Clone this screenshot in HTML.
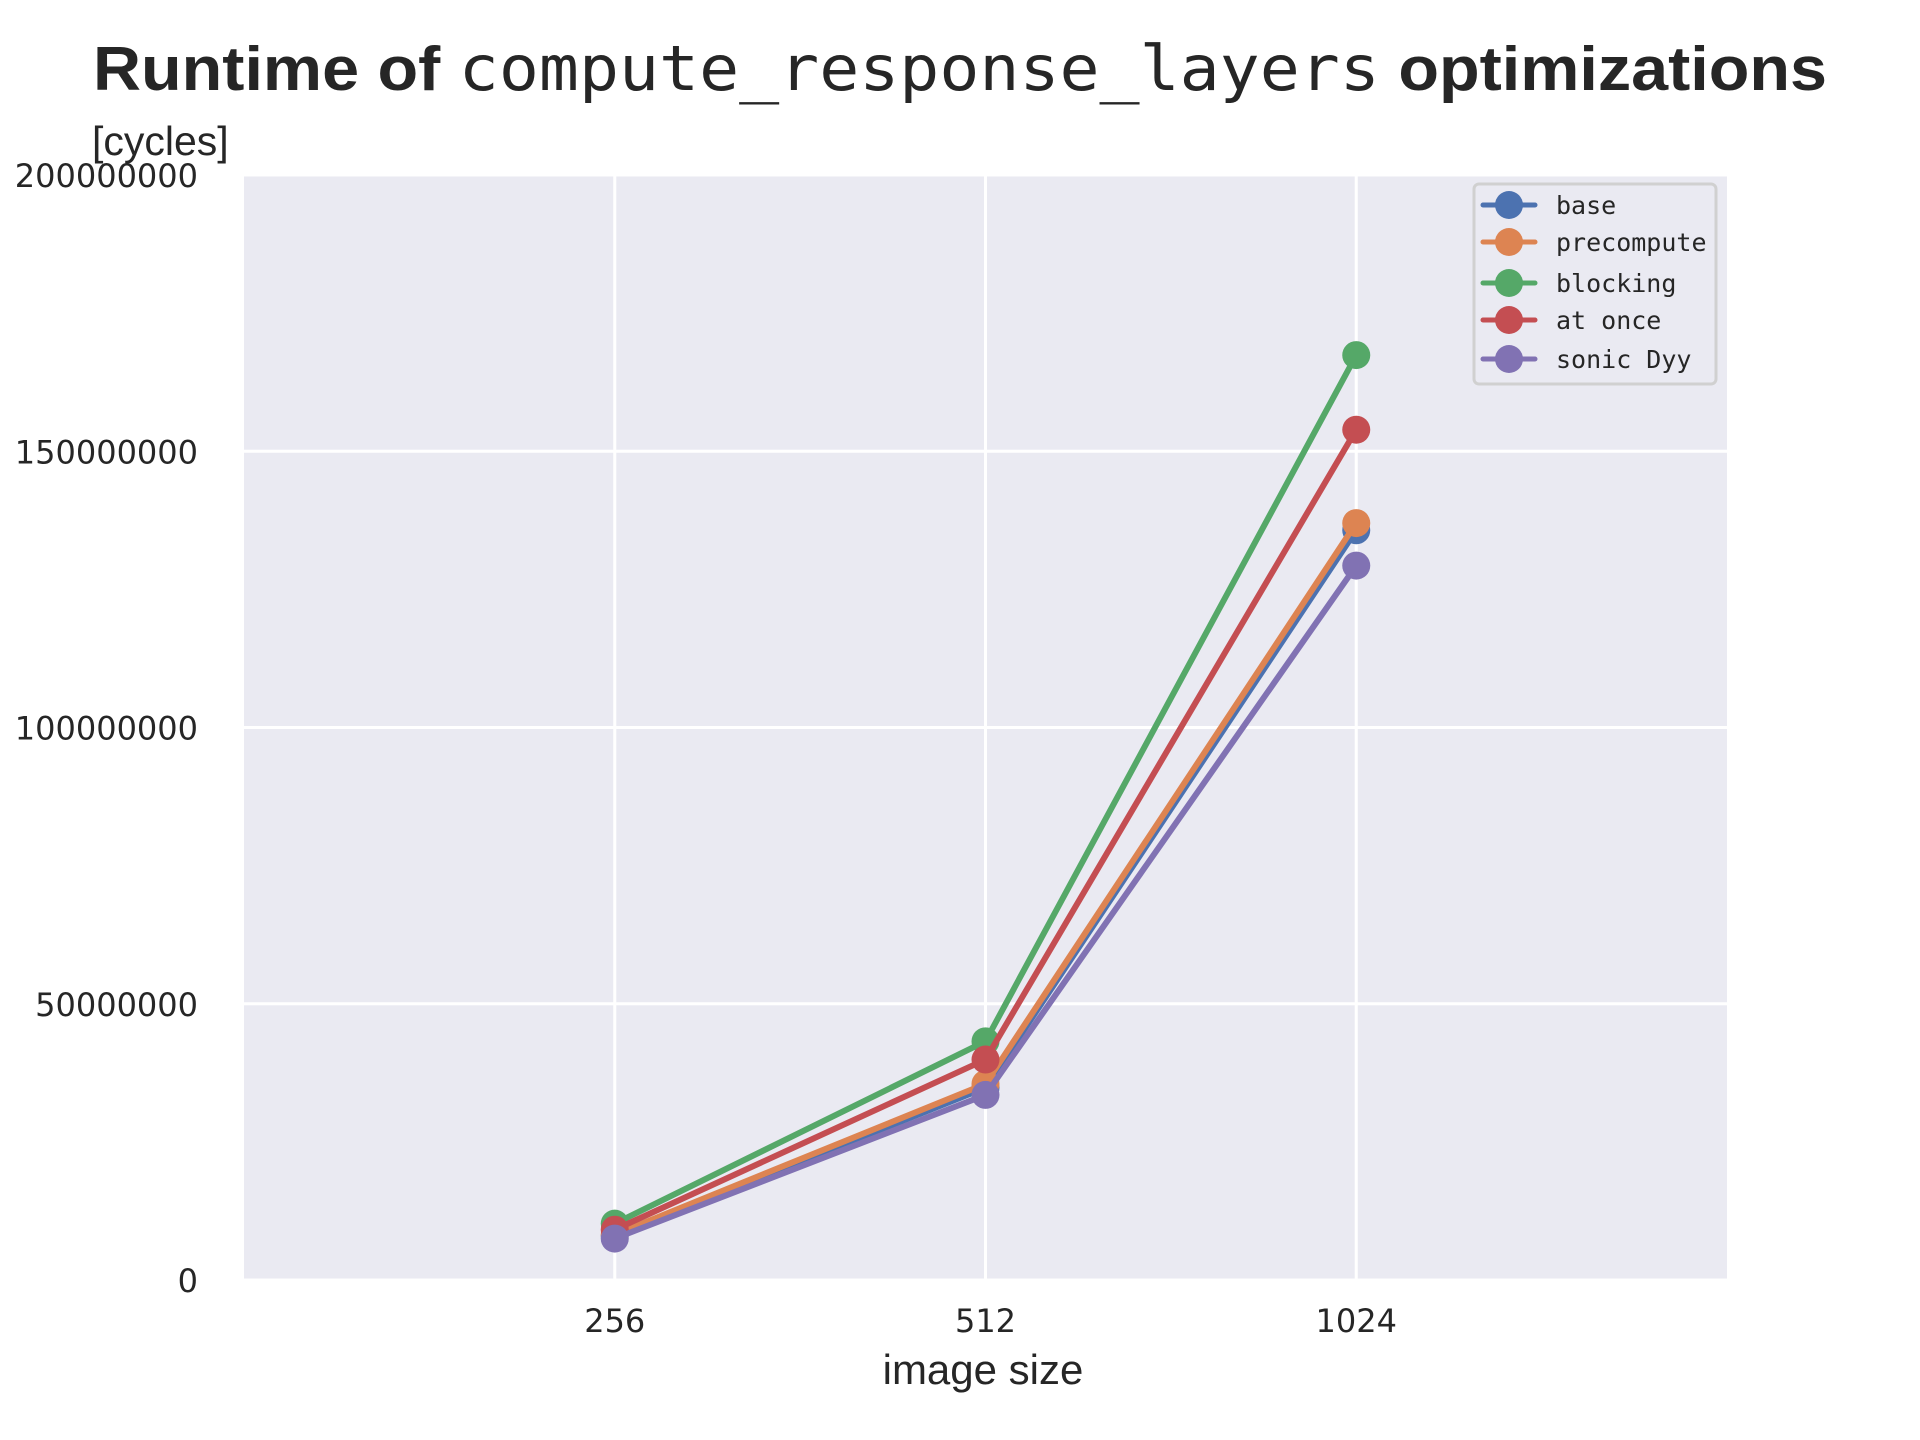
<!DOCTYPE html>
<html><head><meta charset="utf-8"><style>
body{margin:0;background:#fff}
svg{display:block}
text{fill:#262626;font-family:"Liberation Sans",sans-serif}
.mono{font-family:"DejaVu Sans Mono","Liberation Mono",monospace}
.tick{font-family:"DejaVu Sans","Liberation Sans",sans-serif}
</style></head><body>
<svg id="chart" width="1920" height="1440">
<text x="93" y="90" font-size="62" textLength="1734" lengthAdjust="spacingAndGlyphs"><tspan font-weight="bold">Runtime of </tspan><tspan class="mono">compute_response_layers</tspan><tspan font-weight="bold"> optimizations</tspan></text>
<text x="92" y="155" font-size="41">[cycles]</text>
<rect x="244" y="175" width="1483" height="1105" fill="#EAEAF2"/>
<g id="grid"></g>
<g id="series"></g>
<text x="983" y="1384" font-size="42" text-anchor="middle">image size</text>
<g id="legend"></g>
</svg>
<script>
const categories = ["256","512","1024"];
const yTicks = [0,50000000,100000000,150000000,200000000];
const seriesNames = ["base","precompute","blocking","at once","sonic Dyy"];
const base = [8000000,34800000,135700000];
const precompute = [8200000,35500000,137000000];
const blocking = [10200000,43200000,167400000];
const atonce = [9100000,39900000,153900000];
const sonic = [7500000,33500000,129300000];
const colors = ["#4C72B0","#DD8452","#55A868","#C44E52","#8172B3"];
const allSeries = [base,precompute,blocking,atonce,sonic];
const NS="http://www.w3.org/2000/svg";
const L=244,R=1727,T=175,B=1280;
function xs(i){return L+(i+1)/4*(R-L);}
function ys(v){return B-v/200000000*(B-T);}
function mk(t,a,p){const e=document.createElementNS(NS,t);for(const k in a)e.setAttribute(k,a[k]);p.appendChild(e);return e;}
const grid=document.getElementById('grid');
yTicks.forEach(v=>{
  const l=mk('line',{x1:L,x2:R,y1:ys(v),y2:ys(v),stroke:'#fff','stroke-width':3},grid);
  
  
  const t=mk('text',{x:198,y:ys(v)+12,'font-size':32,'text-anchor':'end',class:'tick'},grid);
  t.textContent=String(v);
  
  
});
categories.forEach((c,i)=>{
  const l=mk('line',{x1:xs(i),x2:xs(i),y1:T,y2:B,stroke:'#fff','stroke-width':3},grid);
  
  
  const t=mk('text',{x:xs(i),y:1332,'font-size':32,'text-anchor':'middle',class:'tick'},grid);
  t.textContent=c;
  
  
});
const sg=document.getElementById('series');
allSeries.forEach((s,k)=>{
  const g=mk('g',{},sg);
  
  
  const p=mk('polyline',{points:s.map((v,i)=>xs(i)+','+ys(v)).join(' '),fill:'none',stroke:colors[k],'stroke-width':6,'stroke-linejoin':'round'},g);
  
  
  s.forEach((v,i)=>{
    const c=mk('circle',{cx:xs(i),cy:ys(v),r:14,fill:colors[k]},g);
    
    
  });
});
const lg=document.getElementById('legend');


mk('rect',{x:1474,y:184,width:242,height:200,rx:5,fill:'#EAEAF2',stroke:'#d0d0d0','stroke-width':3},lg);
const ly=[205,242,283,320,359];
seriesNames.forEach((n,k)=>{
  const g=mk('g',{},lg);
  
  
  mk('line',{x1:1483,x2:1535,y1:ly[k],y2:ly[k],stroke:colors[k],'stroke-width':5,'stroke-linecap':'round'},g);
  mk('circle',{cx:1509,cy:ly[k],r:14,fill:colors[k]},g);
  const t=mk('text',{x:1556,y:ly[k]+9,'font-size':25,class:'mono'},g);
  t.textContent=n;
});
</script>
</body></html>
